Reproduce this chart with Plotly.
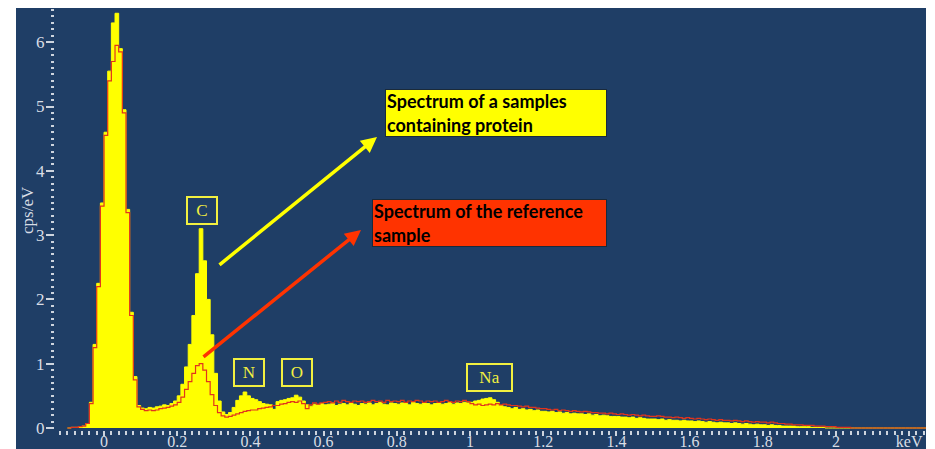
import plotly.graph_objects as go

# ---------------- data (0.01 keV channels, starting at -0.10 keV) ----------------
energy_start = -0.10
channel_width = 0.01

protein_cps = [
    0.00, 0.01, 0.01, 0.02, 0.03, 0.07, 0.40, 1.30, 2.25, 3.50,   # -0.10
    4.60, 5.55, 6.30, 6.45, 5.90, 4.95, 3.40, 1.80, 0.80, 0.35,   # 0.00
    0.31, 0.30, 0.32, 0.31, 0.33, 0.34, 0.36, 0.35, 0.38, 0.42,   # 0.10
    0.50, 0.68, 0.95, 1.30, 1.75, 2.40, 3.10, 2.60, 2.00, 1.45,   # 0.20
    0.85, 0.42, 0.25, 0.21, 0.24, 0.32, 0.43, 0.50, 0.56, 0.50,   # 0.30
    0.46, 0.44, 0.41, 0.38, 0.37, 0.36, 0.29, 0.41, 0.43, 0.44,   # 0.40
    0.46, 0.47, 0.51, 0.48, 0.42, 0.36, 0.34, 0.37, 0.36, 0.38,   # 0.50
    0.36, 0.37, 0.39, 0.35, 0.37, 0.38, 0.36, 0.39, 0.37, 0.35,   # 0.60
    0.38, 0.37, 0.39, 0.36, 0.38, 0.40, 0.37, 0.36, 0.39, 0.38,   # 0.70
    0.37, 0.39, 0.38, 0.36, 0.40, 0.38, 0.37, 0.39, 0.38, 0.36,   # 0.80
    0.38, 0.39, 0.37, 0.38, 0.40, 0.37, 0.39, 0.38, 0.40, 0.39,   # 0.90
    0.40, 0.42, 0.43, 0.45, 0.46, 0.47, 0.44, 0.40, 0.35, 0.33,   # 1.00
    0.32, 0.30, 0.32, 0.29, 0.30, 0.28, 0.29, 0.27, 0.28, 0.26,   # 1.10
    0.26, 0.25, 0.26, 0.24, 0.25, 0.23, 0.24, 0.22, 0.23, 0.22,   # 1.20
    0.22, 0.21, 0.22, 0.20, 0.21, 0.19, 0.20, 0.19, 0.18, 0.18,   # 1.30
    0.18, 0.17, 0.17, 0.16, 0.17, 0.15, 0.16, 0.15, 0.14, 0.14,   # 1.40
    0.14, 0.13, 0.14, 0.12, 0.13, 0.12, 0.12, 0.11, 0.12, 0.11,   # 1.50
    0.11, 0.10, 0.11, 0.10, 0.09, 0.10, 0.09, 0.08, 0.09, 0.08,   # 1.60
    0.08, 0.07, 0.08, 0.07, 0.06, 0.07, 0.06, 0.05, 0.06, 0.05,   # 1.70
    0.05, 0.04, 0.05, 0.04, 0.04, 0.03, 0.03, 0.03, 0.03, 0.02,   # 1.80
    0.02, 0.02, 0.02, 0.01, 0.01, 0.01, 0.01, 0.00, 0.00, 0.00,   # 1.90
    0.00, 0.00, 0.00, 0.00, 0.00, 0.00, 0.00, 0.00, 0.00, 0.00,   # 2.00
    0.00, 0.00, 0.00, 0.00, 0.00, 0.00, 0.00, 0.00, 0.00, 0.00,   # 2.10
    0.00, 0.00, 0.00, 0.00, 0.00, 0.00,                           # 2.20
]

reference_cps = [
    0.00, 0.01, 0.01, 0.02, 0.03, 0.07, 0.38, 1.25, 2.20, 3.45,   # -0.10
    4.55, 5.40, 5.70, 5.95, 5.85, 4.90, 3.35, 1.75, 0.75, 0.33,   # 0.00
    0.29, 0.27, 0.28, 0.27, 0.28, 0.30, 0.31, 0.32, 0.34, 0.36,   # 0.10
    0.40, 0.48, 0.60, 0.72, 0.85, 0.97, 1.00, 0.90, 0.72, 0.52,   # 0.20
    0.35, 0.24, 0.19, 0.17, 0.18, 0.20, 0.22, 0.24, 0.26, 0.27,   # 0.30
    0.28, 0.28, 0.30, 0.31, 0.32, 0.33, 0.35, 0.35, 0.37, 0.38,   # 0.40
    0.40, 0.41, 0.40, 0.42, 0.38, 0.30, 0.36, 0.39, 0.37, 0.39,   # 0.50
    0.40, 0.41, 0.39, 0.42, 0.40, 0.43, 0.41, 0.40, 0.42, 0.41,   # 0.60
    0.42, 0.40, 0.41, 0.43, 0.41, 0.42, 0.40, 0.43, 0.41, 0.42,   # 0.70
    0.41, 0.43, 0.40, 0.42, 0.41, 0.43, 0.42, 0.40, 0.42, 0.41,   # 0.80
    0.42, 0.40, 0.41, 0.43, 0.41, 0.40, 0.42, 0.41, 0.43, 0.41,   # 0.90
    0.38, 0.36, 0.37, 0.35, 0.36, 0.37, 0.36, 0.38, 0.36, 0.37,   # 1.00
    0.36, 0.35, 0.35, 0.34, 0.33, 0.34, 0.32, 0.32, 0.31, 0.30,   # 1.10
    0.30, 0.29, 0.28, 0.29, 0.27, 0.28, 0.27, 0.26, 0.27, 0.26,   # 1.20
    0.25, 0.26, 0.25, 0.24, 0.24, 0.23, 0.23, 0.22, 0.23, 0.22,   # 1.30
    0.21, 0.22, 0.21, 0.20, 0.21, 0.20, 0.19, 0.20, 0.19, 0.18,   # 1.40
    0.18, 0.19, 0.18, 0.17, 0.17, 0.16, 0.17, 0.16, 0.15, 0.16,   # 1.50
    0.15, 0.14, 0.15, 0.14, 0.13, 0.14, 0.13, 0.12, 0.13, 0.12,   # 1.60
    0.12, 0.11, 0.12, 0.11, 0.10, 0.11, 0.10, 0.09, 0.10, 0.09,   # 1.70
    0.09, 0.08, 0.09, 0.08, 0.07, 0.07, 0.06, 0.06, 0.05, 0.05,   # 1.80
    0.05, 0.04, 0.04, 0.04, 0.03, 0.03, 0.03, 0.02, 0.02, 0.02,   # 1.90
    0.01, 0.01, 0.01, 0.01, 0.00, 0.00, 0.00, 0.00, 0.00, 0.00,   # 2.00
    0.00, 0.00, 0.00, 0.00, 0.00, 0.00, 0.00, 0.00, 0.00, 0.00,   # 2.10
    0.00, 0.00, 0.00, 0.00, 0.00, 0.00,                           # 2.20
]

energy_kev = [round(energy_start + channel_width * i, 2) for i in range(len(protein_cps))]

x_tick_values = [0, 0.2, 0.4, 0.6, 0.8, 1.0, 1.2, 1.4, 1.6, 1.8, 2.0, 2.2]
x_tick_labels = ["0", "0.2", "0.4", "0.6", "0.8", "1", "1.2", "1.4", "1.6", "1.8", "2", "keV"]
y_tick_values = [0, 1, 2, 3, 4, 5, 6]

element_labels = ["C", "N", "O", "Na"]
element_energy = [0.267, 0.396, 0.527, 1.052]
element_height = [3.39, 0.87, 0.87, 0.79]

protein_label = "Spectrum of a samples<br>containing protein"
reference_label = "Spectrum of the reference<br>sample"

# ---------------- styling ----------------
BG = "#1F3E66"
YELLOW = "#FFFF00"
RED = "#E2341C"
TICK = "#CDD4DE"
SERIF = "Liberation Serif"

fig = go.Figure()
fig.add_trace(go.Scatter(
    x=energy_kev, y=protein_cps, mode="lines", line=dict(color=YELLOW, width=1, shape="hv"),
    fill="tozeroy", fillcolor=YELLOW, hoverinfo="skip"))
fig.add_trace(go.Scatter(
    x=energy_kev, y=reference_cps, mode="lines", line=dict(color=RED, width=1.2, shape="hv"),
    hoverinfo="skip"))

# page body has an 8 px margin: the figure origin sits at (8, 8) of the screen
OFF = 8
W, H = 927, 441
L, R, T, B = 47, 9, 0, 19
pw, ph = W - L - R, H - T - B

def px(xs):
    return (xs - OFF - L) / pw

def py(ys):
    return (H - B - (ys - OFF)) / ph

fig.update_layout(
    width=W, height=H, margin=dict(l=L, r=R, t=T, b=B, autoexpand=False),
    paper_bgcolor=BG, plot_bgcolor=BG, showlegend=False,
    xaxis=dict(range=[-0.134, 2.246], tickvals=x_tick_values, ticktext=x_tick_labels,
               automargin=False, ticklabelstandoff=-8,
               ticks="outside", ticklen=5, tickwidth=1.5, tickcolor=TICK,
               tickfont=dict(family=SERIF, size=16, color="#D8DDE5"),
               showgrid=False, zeroline=False, showline=False,
               minor=dict(dtick=0.02, tick0=0, ticks="outside", ticklen=4, tickwidth=1.5,
                          tickcolor=TICK, showgrid=False)),
    yaxis=dict(range=[-0.031, 6.532], tickvals=y_tick_values, automargin=False,
               ticklabelstandoff=-2,
               ticks="outside", ticklen=8, tickwidth=1.5, tickcolor=TICK,
               tickfont=dict(family=SERIF, size=17, color="#D8DDE5"),
               showgrid=False, zeroline=False, showline=False,
               minor=dict(dtick=0.1, tick0=0, ticks="outside", ticklen=3, tickwidth=2,
                          tickcolor=TICK, showgrid=False)),
)

# white page borders (left and right strips)
for x0, x1 in [(px(0), px(16)), (px(926), px(950))]:
    fig.add_shape(type="rect", xref="paper", yref="paper", x0=x0, x1=x1, y0=-1, y1=2,
                  fillcolor="white", line=dict(width=0), layer="above")

annotations = []
annotations.append(dict(xref="paper", yref="paper", x=px(28), y=py(210), text="cps/eV",
                        xanchor="center", yanchor="middle",
                        textangle=-90, showarrow=False,
                        font=dict(family=SERIF, size=17, color="#D8DDE5")))
for lab, e, v in zip(element_labels, element_energy, element_height):
    annotations.append(dict(x=e, y=v, xref="x", yref="y", text=lab, showarrow=False,
                            xanchor="center", yanchor="middle",
                            font=dict(family=SERIF, size=17, color="#F2F040"),
                            bordercolor="#F2F040", borderwidth=2, borderpad=0,
                            width=28 if len(lab) == 1 else 43, height=25))

# arrows
annotations.append(dict(xref="paper", yref="paper", x=px(377), y=py(137), ax=218 - 377, ay=266 - 137,
                        axref="pixel", ayref="pixel", text="", showarrow=True,
                        arrowhead=2, arrowsize=0.9, arrowwidth=3.5, arrowcolor=YELLOW))
annotations.append(dict(xref="paper", yref="paper", x=px(361), y=py(230), ax=202 - 361, ay=358 - 230,
                        axref="pixel", ayref="pixel", text="", showarrow=True,
                        arrowhead=2, arrowsize=0.9, arrowwidth=3.5, arrowcolor="#FF3300"))

# text boxes
annotations.append(dict(xref="paper", yref="paper", x=px(496), y=py(113), text=protein_label,
                        xanchor="center", yanchor="middle",
                        showarrow=False, align="left", bgcolor=YELLOW, bordercolor="#1A2A3A",
                        borderwidth=1, borderpad=1, width=218, height=44,
                        font=dict(family="Lato", size=18, color="black", weight="bold")))
annotations.append(dict(xref="paper", yref="paper", x=px(489.5), y=py(223), text=reference_label,
                        xanchor="center", yanchor="middle",
                        showarrow=False, align="left", bgcolor="#FF3300", bordercolor="#1A2A3A",
                        borderwidth=1, borderpad=1, width=231, height=44,
                        font=dict(family="Lato", size=18, color="black", weight="bold")))

fig.update_layout(annotations=annotations)
fig.write_html("out.html")
